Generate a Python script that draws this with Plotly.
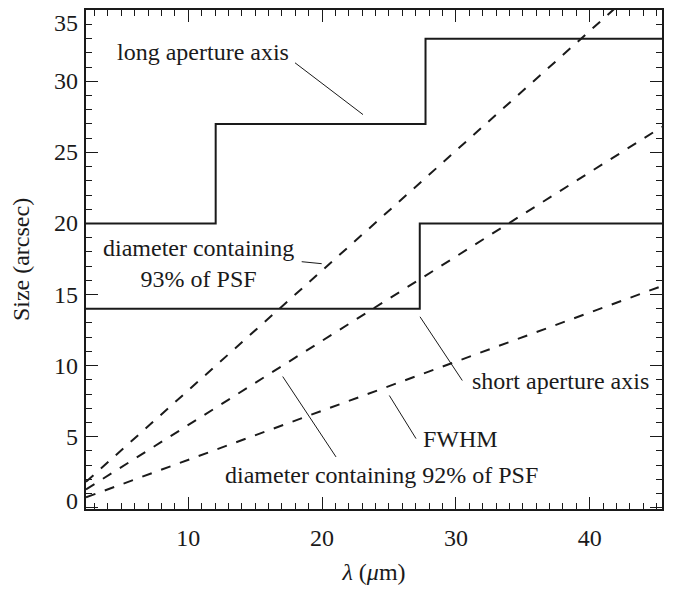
import plotly.graph_objects as go

# Slit aperture dimensions (arcsec) versus wavelength (micron)
long_lam = [2.36, 12.05, 27.73, 45.4]
long_size = [20, 27, 33, 33]

short_lam = [2.36, 27.3, 45.4]
short_size = [14, 20, 20]

# Diffraction sizes across the wavelength range (end points)
psf_lam = [2.36, 45.4]
fwhm = [0.73, 15.6]
diam_92 = [1.29, 26.8]
diam_93 = [1.82, 38.1]

x_range = [2.36, 45.4]
y_range = [-0.09, 35.02]
x_ticks = [10, 20, 30, 40]
y_ticks = [0, 5, 10, 15, 20, 25, 30, 35]

FONT = "Times New Roman, Liberation Serif, serif"
INK = "#1a1a1a"

fig = go.Figure()

for lam, sizes in ((long_lam, long_size), (short_lam, short_size)):
    fig.add_trace(go.Scatter(
        x=lam, y=sizes, mode="lines", line=dict(color=INK, width=2, shape="hv"),
        hoverinfo="skip", showlegend=False))

for sizes in (diam_93, diam_92, fwhm):
    fig.add_trace(go.Scatter(
        x=psf_lam, y=sizes, mode="lines",
        line=dict(color=INK, width=2, dash="10px,10px"),
        hoverinfo="skip", showlegend=False))

# Label text and their leader lines (pixel positions converted to data units)
def px_to_x(px):
    return x_range[0] + (px - 86) * (x_range[1] - x_range[0]) / (662 - 86)

def px_to_y(py):
    return y_range[0] + (509 - py) * (y_range[1] - y_range[0]) / (509 - 8)

leaders = [
    ((295, 61), (363, 113)),
    ((301.7, 260.7), (321.7, 262.7)),
    ((420, 316), (462.3, 380)),
    ((389.3, 395), (416, 438.3)),
    ((282.7, 376), (336, 456.7)),
]
for (x0, y0), (x1, y1) in leaders:
    fig.add_shape(type="line", x0=px_to_x(x0), y0=px_to_y(y0),
                  x1=px_to_x(x1), y1=px_to_y(y1),
                  line=dict(color=INK, width=1))

labels = [
    ("long aperture axis", 202.5, 50),
    ("diameter containing<br>93% of PSF", 198.3, 263),
    ("short aperture axis", 560, 380.7),
    ("FWHM", 460.8, 438.3),
    ("diameter containing 92% of PSF", 381.7, 475),
]
for text, px, py in labels:
    fig.add_annotation(x=px_to_x(px), y=px_to_y(py), text=text, showarrow=False,
                       xanchor="center", yanchor="middle", align="center",
                       font=dict(family=FONT, size=24, color=INK))

# y tick labels, with the end labels nudged inside the frame
for v in y_ticks:
    shift = 0
    if v == y_ticks[0]:
        shift = 7
    elif v == y_ticks[-1]:
        shift = -13
    fig.add_annotation(x=0, xref="paper", y=v, yref="y", text=str(v),
                       showarrow=False, xanchor="right", yanchor="middle",
                       xshift=-6, yshift=shift,
                       font=dict(family=FONT, size=24, color=INK))

axis_common = dict(
    showgrid=False, zeroline=False, showline=True, linecolor=INK, linewidth=1.5,
    mirror="allticks", ticks="inside", ticklen=12, tickwidth=1.2, tickcolor=INK,
    minor=dict(ticks="inside", ticklen=6, tickwidth=1, tickcolor=INK, dtick=1),
)

fig.update_layout(
    width=673, height=589,
    margin=dict(l=86, r=11, t=8, b=80),
    paper_bgcolor="white", plot_bgcolor="white",
    font=dict(family=FONT, size=24, color=INK),
    xaxis=dict(range=x_range, tickvals=x_ticks, ticklabelstandoff=6,
               title=dict(text="<i>λ</i> (<i>μ</i>m)", standoff=14,
                          font=dict(family=FONT, size=24, color=INK)),
               tickfont=dict(family=FONT, size=24, color=INK), **axis_common),
    yaxis=dict(range=y_range, tickvals=y_ticks, showticklabels=False,
               title=dict(text="Size (arcsec)", standoff=48,
                          font=dict(family=FONT, size=24, color=INK)),
               **axis_common),
)

fig.write_html("out.html")
